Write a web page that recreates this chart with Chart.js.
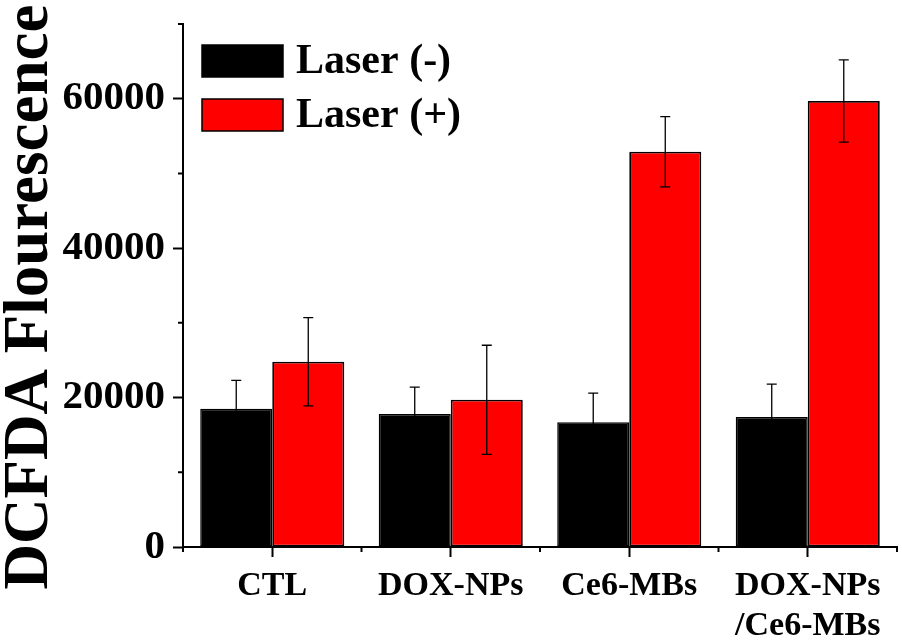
<!DOCTYPE html>
<html>
<head>
<meta charset="utf-8">
<script src="https://cdn.jsdelivr.net/npm/chart.js@4/dist/chart.umd.min.js"></script>
<style>
  html, body { margin: 0; padding: 0; background: #fff; }
  #wrap { width: 902px; height: 643px; position: relative; }
</style>
</head>
<body>
<div id="wrap"><canvas id="chart-canvas"></canvas></div>
<script>
"use strict";

// data
let groups = ["CTL", "DOX-NPs", "Ce6-MBs", ["DOX-NPs", "/Ce6-MBs"]];
let laserOff = [18500, 17800, 16700, 17400];
let laserOffErr = [3800, 3600, 3900, 4400];
let laserOn = [24800, 19700, 52900, 59700];
let laserOnErr = [5900, 7300, 4700, 5500];
let yTicks = [0, 20000, 40000, 60000];
let yMinorTicks = [10000, 30000, 50000, 70000];
let yTitle = "DCFDA Flourescence";

let serif = "'Liberation Serif', 'Times New Roman', serif";

// error bars + minor ticks + legend + y title, drawn from the chart's own scales
let extrasPlugin = {
  id: "extras",
  afterDatasetsDraw(chart) {
    let ctx = chart.ctx;
    let yScale = chart.scales.y;
    let xScale = chart.scales.x;

    ctx.save();
    chart.data.datasets.forEach(function (ds, i) {
      let meta = chart.getDatasetMeta(i);
      meta.data.forEach(function (bar, j) {
        let v = ds.data[j];
        let e = ds.errors[j];
        let yTop = yScale.getPixelForValue(v + e);
        let yBot = yScale.getPixelForValue(v - e);
        ctx.strokeStyle = "#000";
        ctx.lineWidth = 1.3;
        ctx.beginPath();
        ctx.moveTo(bar.x, yTop);
        ctx.lineTo(bar.x, yBot);
        ctx.moveTo(bar.x - 5, yTop);
        ctx.lineTo(bar.x + 5, yTop);
        ctx.moveTo(bar.x - 5, yBot);
        ctx.lineTo(bar.x + 5, yBot);
        ctx.stroke();
      });
    });

    // minor ticks
    ctx.strokeStyle = "#000";
    ctx.lineWidth = 2;
    ctx.beginPath();
    for (let t of yMinorTicks) {
      let py = yScale.getPixelForValue(t);
      ctx.moveTo(yScale.right - 5, py);
      ctx.lineTo(yScale.right, py);
    }
    for (let k = 0; k <= groups.length; k++) {
      let px = xScale.getPixelForValue(k - 0.5);
      ctx.moveTo(px, xScale.top);
      ctx.lineTo(px, xScale.top + 5);
    }
    ctx.stroke();

    // legend
    let lx = 202, ly = 45, bw = 81, bh = 32, gap = 54;
    chart.data.datasets.forEach(function (ds, i) {
      let by = ly + i * gap;
      ctx.fillStyle = ds.backgroundColor;
      ctx.fillRect(lx, by, bw, bh);
      ctx.strokeStyle = "#000";
      ctx.lineWidth = 1.5;
      ctx.strokeRect(lx, by, bw, bh);
      ctx.fillStyle = "#000";
      ctx.font = "bold 42px " + serif;
      ctx.textBaseline = "alphabetic";
      ctx.textAlign = "left";
      ctx.fillText(ds.label, lx + bw + 13, by + 28);
    });

    // y axis title
    ctx.translate(47, 297);
    ctx.rotate(-Math.PI / 2);
    ctx.fillStyle = "#000";
    ctx.font = "bold 63px " + serif;
    ctx.textAlign = "center";
    ctx.textBaseline = "alphabetic";
    ctx.fillText(yTitle, 0, 0);
    ctx.restore();
  }
};

let ctx = document.getElementById("chart-canvas");
let chart = new Chart(ctx, {
  type: "bar",
  data: {
    labels: groups,
    datasets: [
      {
        label: "Laser (-)",
        data: laserOff,
        errors: laserOffErr,
        backgroundColor: "#000000",
        borderColor: "#000000",
        borderWidth: 1.5,
        borderSkipped: false,
      },
      {
        label: "Laser (+)",
        data: laserOn,
        errors: laserOnErr,
        backgroundColor: "#ff0000",
        borderColor: "#000000",
        borderWidth: 1.8,
        borderSkipped: false,
      },
    ],
  },
  options: {
    responsive: true,
    maintainAspectRatio: false,
    animation: false,
    layout: { padding: { top: 24, right: 5, left: 0, bottom: 0 } },
    categoryPercentage: 0.807,
    barPercentage: 1.0,
    plugins: {
      legend: { display: false },
      tooltip: { enabled: false },
    },
    scales: {
      x: {
        offset: true,
        grid: {
          offset: false,
          drawOnChartArea: false,
          drawTicks: true,
          tickLength: 10,
          tickWidth: 2,
          tickColor: "#000",
        },
        border: { display: true, color: "#000", width: 2 },
        ticks: {
          color: "#000",
          padding: 9,
          maxRotation: 0,
          font: { family: serif, size: 34, weight: "bold", lineHeight: 1.18 },
        },
        afterFit(scale) {
          scale.height = 96;
          scale.paddingLeft = 0;
          scale.paddingRight = 0;
        },
      },
      y: {
        min: 0,
        max: 70000,
        afterBuildTicks(scale) {
          scale.ticks = yTicks.map(function (v) { return { value: v }; });
        },
        grid: {
          drawOnChartArea: false,
          drawTicks: true,
          tickLength: 10,
          tickWidth: 2,
          tickColor: "#000",
        },
        border: { display: true, color: "#000", width: 2 },
        ticks: {
          color: "#000",
          padding: 8,
          font: { family: serif, size: 41, weight: "bold", lineHeight: 1 },
          callback: function (v) { return String(v); },
        },
        afterFit(scale) {
          scale.width = 183;
          scale.paddingTop = 0;
          scale.paddingBottom = 0;
        },
      },
    },
  },
  plugins: [extrasPlugin],
});
</script>
</body>
</html>
